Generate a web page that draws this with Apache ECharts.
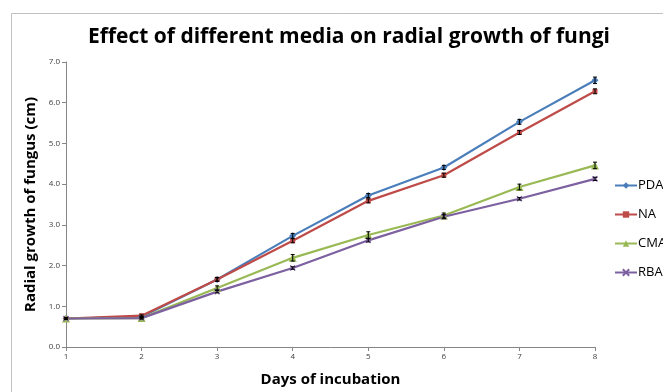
<!DOCTYPE html>
<html>
<head>
<meta charset="utf-8">
<script src="https://cdn.jsdelivr.net/npm/echarts@6/dist/echarts.min.js"></script>
<style>
html,body{margin:0;padding:0;background:#fff;}
#chart{width:663px;height:392px;}
</style>
</head>
<body>
<div id="chart"></div>
<script>
var days = ['1','2','3','4','5','6','7','8'];
var pda = [0.70, 0.74, 1.66, 2.73, 3.72, 4.41, 5.53, 6.55];
var na  = [0.70, 0.77, 1.66, 2.61, 3.59, 4.22, 5.27, 6.28];
var cma = [0.70, 0.71, 1.45, 2.19, 2.75, 3.23, 3.93, 4.46];
var rba = [0.70, 0.71, 1.36, 1.94, 2.62, 3.20, 3.64, 4.13];
var pdaErr = [0.02, 0.02, 0.04, 0.06, 0.05, 0.05, 0.06, 0.08];
var naErr  = [0.02, 0.02, 0.05, 0.05, 0.05, 0.05, 0.05, 0.06];
var cmaErr = [0.02, 0.02, 0.05, 0.08, 0.08, 0.06, 0.07, 0.08];
var rbaErr = [0.02, 0.02, 0.03, 0.03, 0.04, 0.05, 0.03, 0.04];
var yTicks = ['0.0','1.0','2.0','3.0','4.0','5.0','6.0','7.0'];

var chart = echarts.init(document.getElementById('chart'));

function errSeries(vals, errs) {
  var d = vals.map(function (v, i) { return [i, v, errs[i]]; });
  return {
    type: 'custom',
    silent: true,
    z: 5,
    data: d,
    renderItem: function (params, api) {
      var x = api.value(0), v = api.value(1), e = api.value(2);
      var top = api.coord([x, v + e]);
      var bot = api.coord([x, v - e]);
      var w = 2;
      var st = { stroke: '#000', lineWidth: 1 };
      return {
        type: 'group',
        children: [
          { type: 'line', shape: { x1: top[0], y1: top[1], x2: bot[0], y2: bot[1] }, style: st },
          { type: 'line', shape: { x1: top[0] - w, y1: top[1], x2: top[0] + w, y2: top[1] }, style: st },
          { type: 'line', shape: { x1: bot[0] - w, y1: bot[1], x2: bot[0] + w, y2: bot[1] }, style: st }
        ]
      };
    }
  };
}

function lineSeries(name, vals, color, symbol, size) {
  return {
    name: name,
    type: 'line',
    data: vals,
    symbol: symbol,
    symbolSize: size,
    showSymbol: true,
    z: 3,
    lineStyle: { color: color, width: 2.2 },
    itemStyle: { color: color, borderColor: color, borderWidth: symbol.indexOf('path') === 0 ? 1.5 : 0 },
    emphasis: { disabled: true }
  };
}

var option = {
  animation: false,
  backgroundColor: '#fff',
  textStyle: { fontFamily: 'Open Sans' },
  title: {
    text: 'Effect of different media on radial growth of fungi',
    left: 344,
    textAlign: 'center',
    top: 22,
    textStyle: { fontFamily: 'Open Sans', fontWeight: 'bold', fontSize: 21, color: '#000' }
  },
  grid: { left: 66, right: 68, top: 62, bottom: 45 },
  legend: {
    orient: 'vertical',
    left: 609,
    top: 174,
    itemGap: 16,
    itemWidth: 22,
    itemHeight: 8,
    textStyle: { fontFamily: 'Open Sans', fontSize: 13, color: '#000', padding: [0, 0, 0, -4] },
    data: ['PDA', 'NA', 'CMA', 'RBA']
  },
  xAxis: {
    type: 'category',
    data: days,
    boundaryGap: false,
    name: 'Days of incubation',
    nameLocation: 'middle',
    nameGap: 25,
    nameTextStyle: { fontFamily: 'Open Sans', fontWeight: 'bold', fontSize: 15, color: '#000' },
    axisLine: { lineStyle: { color: '#868686', width: 1 } },
    axisTick: { show: true, length: 4, lineStyle: { color: '#868686' } },
    axisLabel: { fontSize: 8, color: '#404040', margin: 6 },
    splitLine: { show: false }
  },
  yAxis: {
    type: 'value',
    min: 0,
    max: 7,
    interval: 1,
    name: 'Radial growth of fungus (cm)',
    nameLocation: 'middle',
    nameGap: 24,
    nameTextStyle: { fontFamily: 'Open Sans', fontWeight: 'bold', fontSize: 15, color: '#000' },
    axisLine: { show: true, lineStyle: { color: '#868686', width: 1 } },
    axisTick: { show: true, length: 4, lineStyle: { color: '#868686' } },
    axisLabel: {
      fontSize: 8, color: '#404040', margin: 6,
      formatter: function (v) { return yTicks[Math.round(v)]; }
    },
    splitLine: { show: false }
  },
  graphic: [
    { type: 'line', shape: { x1: 11.5, y1: 13.5, x2: 663, y2: 13.5 }, style: { stroke: '#c0c0c0', lineWidth: 1 }, silent: true },
    { type: 'line', shape: { x1: 11.5, y1: 13.5, x2: 11.5, y2: 392 }, style: { stroke: '#c0c0c0', lineWidth: 1 }, silent: true }
  ],
  series: [
    lineSeries('PDA', pda, '#4a7ebb', 'diamond', 7),
    lineSeries('NA', na, '#be4b48', 'rect', 5),
    lineSeries('CMA', cma, '#98b954', 'triangle', 8),
    lineSeries('RBA', rba, '#7d60a0', 'path://M0,0L10,10M10,0L0,10', 5),
    errSeries(pda, pdaErr),
    errSeries(na, naErr),
    errSeries(cma, cmaErr),
    errSeries(rba, rbaErr)
  ]
};
chart.setOption(option);
</script>
</body>
</html>
